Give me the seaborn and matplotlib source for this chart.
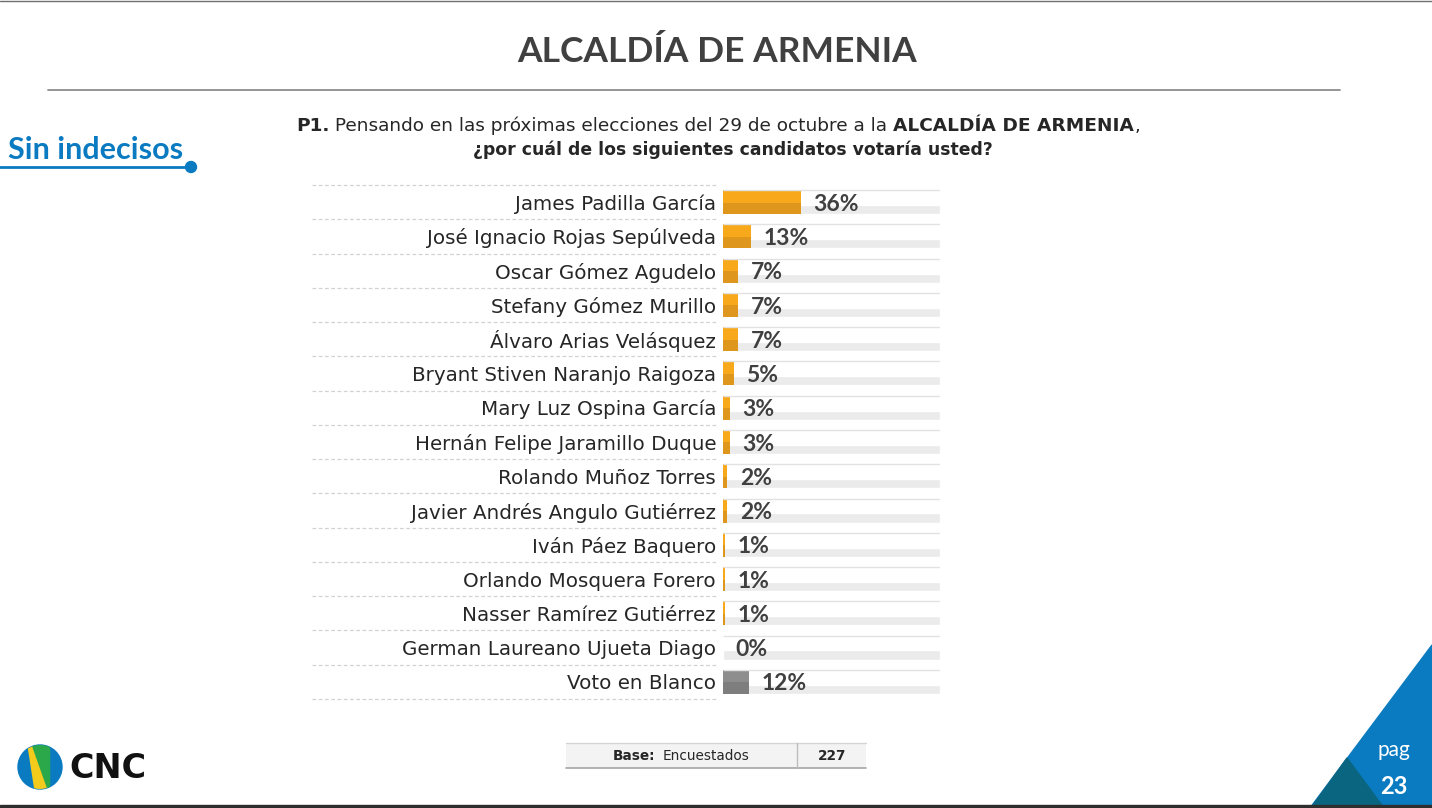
import matplotlib
matplotlib.use("Agg")
import matplotlib.pyplot as plt
import seaborn as sns
from matplotlib.patches import Polygon, Circle, Rectangle
import matplotlib.transforms as mtransforms

candidatos = [
    "James Padilla García",
    "José Ignacio Rojas Sepúlveda",
    "Oscar Gómez Agudelo",
    "Stefany Gómez Murillo",
    "Álvaro Arias Velásquez",
    "Bryant Stiven Naranjo Raigoza",
    "Mary Luz Ospina García",
    "Hernán Felipe Jaramillo Duque",
    "Rolando Muñoz Torres",
    "Javier Andrés Angulo Gutiérrez",
    "Iván Páez Baquero",
    "Orlando Mosquera Forero",
    "Nasser Ramírez Gutiérrez",
    "German Laureano Ujueta Diago",
    "Voto en Blanco",
]
porcentajes = [36, 13, 7, 7, 7, 5, 3, 3, 2, 2, 1, 1, 1, 0, 12]
escala = [100] * len(candidatos)

titulo = "ALCALDÍA DE ARMENIA"
base_n = "227"

sns.set_theme(style="white")
plt.rcParams["font.family"] = ["DejaVu Sans"]
LATO = ["Lato", "DejaVu Sans"]

W, H = 1432, 808
fig = plt.figure(figsize=(W / 100, H / 100), dpi=100)
fig.patch.set_facecolor("white")

# fondo en coordenadas de pixel
bg = fig.add_axes([0, 0, 1, 1], zorder=0)
bg.set_xlim(0, W)
bg.set_ylim(H, 0)
bg.axis("off")

# ejes de barras
x0, x1 = 723, 940
y_top, y_bot = 185, 699
ax = fig.add_axes([x0 / W, 1 - y_bot / H, (x1 - x0) / W, (y_bot - y_top) / H], zorder=2)
ax.patch.set_alpha(0)

claro = ["#F7A81B"] * 14 + ["#8E8E8E"]
oscuro = ["#DE961C"] * 14 + ["#7E7E7E"]

# pista de fondo
sns.barplot(x=escala, y=candidatos, color="white", width=0.7, orient="h",
            saturation=1, ax=ax)
n = len(ax.patches)
sns.barplot(x=escala, y=candidatos, color="#EBEBEB", width=0.7, orient="h",
            saturation=1, ax=ax)
for p in ax.patches[n:]:
    y, h = p.get_y(), p.get_height()
    p.set_y(y + h * 0.62)
    p.set_height(h * 0.38)
ax.hlines([i - 0.35 for i in range(len(candidatos))], 0, 100, color="#E2E2E2", lw=1)

# barras
n = len(ax.patches)
sns.barplot(x=porcentajes, y=candidatos, hue=candidatos, palette=claro, legend=False,
            width=0.7, orient="h", saturation=1, ax=ax)
n2 = len(ax.patches)
sns.barplot(x=porcentajes, y=candidatos, hue=candidatos, palette=oscuro, legend=False,
            width=0.7, orient="h", saturation=1, ax=ax)
for p in ax.patches[n2:]:
    y, h = p.get_y(), p.get_height()
    p.set_y(y + h * 0.52)
    p.set_height(h * 0.48)
for p in ax.patches[n:]:
    p.set_linewidth(0)

for i, v in enumerate(porcentajes):
    ax.annotate(f"{v}%", (v, i), xytext=(9, -1.5), textcoords="offset points",
                va="center", ha="left", fontsize=16.5, fontweight="bold",
                color="#404040", family=LATO)

ax.set_xlim(0, 100)
ax.set_ylim(len(candidatos) - 0.5, -0.5)
ax.set_xlabel("")
ax.set_ylabel("")
ax.set_xticks([])
ax.tick_params(axis="y", length=0, pad=5, labelsize=14.3, labelcolor="#262626")
for s in ax.spines.values():
    s.set_visible(False)

# separadores punteados
tr = mtransforms.blended_transform_factory(ax.transAxes, ax.transData)
ax.hlines([i - 0.5 for i in range(len(candidatos) + 1)], (312 - x0) / (x1 - x0),
          (718 - x0) / (x1 - x0), transform=tr, color="#D2D2D2", lw=0.9,
          linestyles=(0, (3, 2)), clip_on=False)

# titulo
bg.text(717, 52, titulo, ha="center", va="center", fontsize=25.5, fontweight="bold",
        color="#404040", family=LATO)
bg.plot([48, 1340], [90, 90], color="#8C8C8C", lw=1.3)

# pregunta con partes en negrita
renderer = fig.canvas.get_renderer()


def linea(partes, cx, y, size):
    textos = []
    for txt, peso in partes:
        t = bg.text(0, y, txt, ha="left", va="center", fontsize=size, fontweight=peso,
                    color="#262626")
        textos.append(t)
    anchos = [t.get_window_extent(renderer).width for t in textos]
    x = cx - sum(anchos) / 2
    for t, w in zip(textos, anchos):
        t.set_x(x)
        x += w


linea([("P1.", "bold"),
       (" Pensando en las próximas elecciones del 29 de octubre a la ", "normal"),
       ("ALCALDÍA DE ARMENIA", "bold"), (",", "normal")], 718, 126, 13.3)
linea([("¿por cuál de los siguientes candidatos votaría usted?", "bold")], 733, 150, 12.4)

# Sin indecisos
azul = "#0B7BC1"
bg.text(8, 150, "Sin indecisos", ha="left", va="center", fontsize=22, fontweight="bold",
        color=azul, family=LATO)
bg.plot([0, 191], [167, 167], color=azul, lw=2)
bg.add_patch(Circle((191, 167), 5.5, color=azul))

# base
bg.add_patch(Rectangle((566, 743), 300, 25, facecolor="#F3F3F3", edgecolor="none"))
bg.plot([566, 866], [743, 743], color="#D5D5D5", lw=1)
bg.plot([566, 866], [768, 768], color="#A6A6A6", lw=1.2)
bg.plot([797, 797], [743, 768], color="#BDBDBD", lw=1)
bg.text(655, 756, "Base:", ha="right", va="center", fontsize=9.8, fontweight="bold", color="#262626")
bg.text(663, 756, "Encuestados", ha="left", va="center", fontsize=9.8, color="#262626")
bg.text(832, 756, base_n, ha="center", va="center", fontsize=9.8, fontweight="bold", color="#262626")

# logo CNC
circ = Circle((40, 767), 22, transform=bg.transData)
bg.add_patch(Circle((40, 767), 22, color="#0B7BC1"))
yel = Polygon([(28, 745), (32, 745), (48, 790), (35, 790)], closed=True, color="#F2CB1D")
grn = Polygon([(32, 745), (49, 745), (49, 790), (48, 790)], closed=True, color="#2BA84A")
for p in (yel, grn):
    bg.add_patch(p)
    p.set_clip_path(circ)
bg.text(69, 768, "CNC", ha="left", va="center", fontsize=24, fontweight="bold", color="#111111")

# triangulo de pagina
bg.add_patch(Polygon([(1310, 808), (1432, 645), (1432, 808)], closed=True, color="#0B7BC1"))
bg.add_patch(Polygon([(1311, 808), (1347, 758), (1384, 808)], closed=True, color="#0A6581"))
bg.text(1394, 750, "pag", ha="center", va="center", fontsize=15, color="white", family=LATO)
bg.text(1394, 786, "23", ha="center", va="center", fontsize=17, fontweight="bold",
        color="white", family=LATO)

# bordes
bg.add_patch(Rectangle((0, 805), W, 3, color="#2E2E2E"))
bg.plot([0, W], [0.5, 0.5], color="#6E6E6E", lw=1)

fig.savefig("out.png", dpi=100, facecolor="white")
